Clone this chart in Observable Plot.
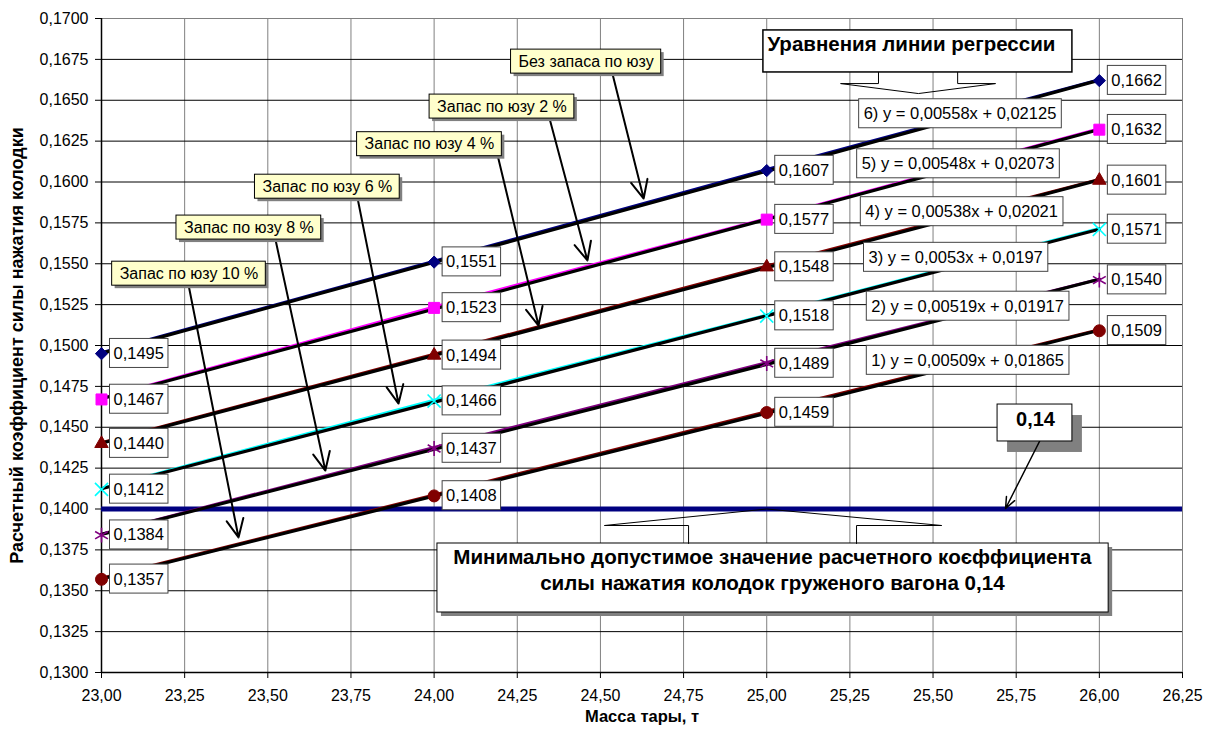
<!DOCTYPE html>
<html><head><meta charset="utf-8">
<script src="https://cdn.jsdelivr.net/npm/d3@7"></script>
<script src="https://cdn.jsdelivr.net/npm/@observablehq/plot@0.6"></script>
<style>
body{margin:0;background:#fff;}
#chart{width:1209px;height:736px;}
</style>
</head><body><div id="chart"></div>
<script>
// ---------- data ----------
const massX = [23, 24, 25, 26];
const seriesNames = ["Без запаса по юзу", "Запас по юзу 2 %", "Запас по юзу 4 %", "Запас по юзу 6 %", "Запас по юзу 8 %", "Запас по юзу 10 %"];
const noReserve = [0.1495, 0.1551, 0.1607, 0.1662];
const reserve2  = [0.1467, 0.1523, 0.1577, 0.1632];
const reserve4  = [0.1440, 0.1494, 0.1548, 0.1601];
const reserve6  = [0.1412, 0.1466, 0.1518, 0.1571];
const reserve8  = [0.1384, 0.1437, 0.1489, 0.1540];
const reserve10 = [0.1357, 0.1408, 0.1459, 0.1509];
const minValue = 0.14;
const equations = ["6) y = 0,00558x + 0,02125", "5) y = 0,00548x + 0,02073", "4) y = 0,00538x + 0,02021", "3) y = 0,0053x + 0,0197", "2) y = 0,00519x + 0,01917", "1) y = 0,00509x + 0,01865"];
const xTicks = [23, 23.25, 23.5, 23.75, 24, 24.25, 24.5, 24.75, 25, 25.25, 25.5, 25.75, 26, 26.25];
const yTicks = [0.13, 0.1325, 0.135, 0.1375, 0.14, 0.1425, 0.145, 0.1475, 0.15, 0.1525, 0.155, 0.1575, 0.16, 0.1625, 0.165, 0.1675, 0.17];
const xTitle = "Масса тары, т";
const yTitle = "Расчетный коэффициент силы нажатия колодки";
const eqTitle = "Уравнения линии регрессии";
const minText1 = "Минимально допустимое значение расчетного коєффициента";
const minText2 = "силы нажатия колодок груженого вагона 0,14";
const minLabel = "0,14";

// ---------- annotation anchors (data coordinates) ----------
const calloutX = [24.457, 24.204, 23.986, 23.679, 23.443, 23.263];
const calloutY = [0.16737, 0.16462, 0.16232, 0.15972, 0.15722, 0.15440];
const arrowX1 = [24.536, 24.347, 24.191, 23.770, 23.523, 23.262];
const arrowY1 = [0.16664, 0.16388, 0.16162, 0.15899, 0.15648, 0.15367];
const arrowX2 = [24.630, 24.461, 24.314, 23.893, 23.673, 23.412];
const arrowY2 = [0.15899, 0.15520, 0.15122, 0.14645, 0.14235, 0.13826];
const eqX = [25.581, 25.575, 25.586, 25.568, 25.604, 25.604];
const eqY = [0.16416, 0.16110, 0.15817, 0.15538, 0.15239, 0.14908];

// ---------- styles ----------
const seriesValues = [noReserve, reserve2, reserve4, reserve6, reserve8, reserve10];
const colors = ["#000080", "#FF00FF", "#800000", "#00FFFF", "#800080", "#800000"];
const symbols = ["diamond2", "square", "triangle", "times", "asterisk", "circle"];
const radii = [5.5, 6.2, 5, 6, 7, 6];

const rows = [];
seriesValues.forEach((vals, i) => vals.forEach((v, j) => rows.push({s: i, name: seriesNames[i], x: massX[j], y: v})));

const ru = d3.formatLocale({decimal: ",", thousands: "\u00a0", grouping: [3], currency: ["", ""]});
const fmt4 = ru.format(".4f");
const fmt2 = ru.format(".2f");

const callouts = seriesNames.map((t, i) => ({t, x: calloutX[i], y: calloutY[i]}));
const arrows = seriesNames.map((t, i) => ({x1: arrowX1[i], y1: arrowY1[i], x2: arrowX2[i], y2: arrowY2[i]}));
const eqRows = equations.map((t, i) => ({t, x: eqX[i], y: eqY[i]}));

// callout frames (data coords)
const eqBox = {x1: 24.990, x2: 25.919, y1: 0.16670, y2: 0.16927};
const eqNotch = [[25.336,0.16670],[25.336,0.16602],[25.222,0.16602],[25.456,0.16541],[25.688,0.16602],[25.574,0.16602],[25.574,0.16670]];
const minBox = {x1: 24.010, x2: 26.028, y1: 0.13367, y2: 0.13789};
const minNotch = [[24.765,0.13789],[24.765,0.13899],[24.512,0.13899],[25.0,0.14],[25.526,0.13899],[25.270,0.13899],[25.270,0.13789]];
const valBox = {x1: 25.694, x2: 25.919, y1: 0.14413, y2: 0.14639};

const F = "Liberation Sans, Arial, Helvetica, sans-serif";

const marks = [
  Plot.ruleX(xTicks, {stroke: "#808080", strokeWidth: 1}),
  Plot.ruleY(yTicks, {stroke: "#000", strokeWidth: 1}),
  Plot.frame({stroke: "#808080"}),
  Plot.ruleX([23], {stroke: "#000", strokeWidth: 1.5}),
  Plot.ruleY([0.13], {stroke: "#000", strokeWidth: 1.5}),
  Plot.ruleY([minValue], {stroke: "#000080", strokeWidth: 5}),
  Plot.line(rows, {x: "x", y: "y", z: "s", stroke: d => colors[d.s], strokeWidth: 3, dy: -1}),
  Plot.linearRegressionY(rows, {x: "x", y: "y", z: "s", stroke: "#000", strokeWidth: 3.2, ci: 0}),
  ...seriesValues.map((_, i) => Plot.dot(rows.filter(d => d.s === i), {
    x: "x", y: "y", symbol: symbols[i], r: radii[i],
    fill: (symbols[i] === "times" || symbols[i] === "asterisk") ? "none" : colors[i],
    stroke: colors[i], strokeWidth: (symbols[i] === "times" || symbols[i] === "asterisk") ? 1.6 : 1
  })),
  // regression title callout
  Plot.rect([eqBox], {x1: "x1", x2: "x2", y1: "y1", y2: "y2", fill: "#fff", stroke: "#000", strokeWidth: 1.5}),
  Plot.line(eqNotch, {x: "0", y: "1", stroke: "#000", strokeWidth: 1}),
  // minimum value callout
  Plot.rect([minBox], {x1: "x1", x2: "x2", y1: "y1", y2: "y2", fill: "#808080", dx: 4, dy: 4}),
  Plot.rect([minBox], {x1: "x1", x2: "x2", y1: "y1", y2: "y2", fill: "#fff", stroke: "#000", strokeWidth: 1}),
  Plot.line(minNotch, {x: "0", y: "1", stroke: "#000", strokeWidth: 1}),
  // 0,14 callout
  Plot.rect([valBox], {x1: "x1", x2: "x2", y1: "y1", y2: "y2", fill: "#808080", dx: 10, dy: 11}),
  Plot.arrow([{x1: 25.820, y1: 0.14413, x2: 25.718, y2: 0.14003}], {x1: "x1", y1: "y1", x2: "x2", y2: "y2", stroke: "#000", strokeWidth: 1.5, headLength: 12, headAngle: 45}),
  Plot.rect([valBox], {x1: "x1", x2: "x2", y1: "y1", y2: "y2", fill: "#fff", stroke: "#000", strokeWidth: 1}),
  // series callout arrows
  Plot.arrow(arrows, {x1: "x1", y1: "y1", x2: "x2", y2: "y2", stroke: "#000", strokeWidth: 2, headLength: 15, headAngle: 50}),
  // data labels
  Plot.text(rows, {x: "x", y: "y", text: d => fmt4(d.y), textAnchor: "start", dx: 12, fontSize: 16.5, fill: "#000", className: "lbl-data"}),
  // equations
  Plot.text(eqRows, {x: "x", y: "y", text: "t", fontSize: 16.5, fill: "#000", className: "lbl-eq"}),
  // series callouts
  Plot.text(callouts, {x: "x", y: "y", text: "t", fontSize: 16, fill: "#000", className: "lbl-call"}),
  // big texts
  Plot.text([eqTitle], {x: 25.002, y: 0.16841, text: d => d, textAnchor: "start", fontSize: 20.5, fontWeight: "bold", fill: "#000"}),
  Plot.text([minLabel], {x: 25.808, y: 0.14547, text: d => d, fontSize: 20, fontWeight: "bold", fill: "#000"}),
  Plot.text([minText1, minText2], {x: 25.017, y: (d, i) => i === 0 ? 0.13703 : 0.13544, text: d => d, fontSize: 20.6, fontWeight: "bold", fill: "#000"}),
  // axis titles
  Plot.text([xTitle], {frameAnchor: "bottom", dy: 44, lineAnchor: "middle", textAnchor: "middle", text: d => d, fontSize: 16.5, fontWeight: "bold", fill: "#000"}),
  Plot.text([yTitle], {frameAnchor: "left", dx: -84, rotate: -90, textAnchor: "middle", lineAnchor: "middle", text: d => d, fontSize: 18, fontWeight: "bold", fill: "#000"}),
  Plot.axisX({ticks: xTicks, tickFormat: fmt2, tickSize: 6, tickPadding: 11, fontSize: 16, label: null, stroke: "#000"}),
  Plot.axisY({ticks: yTicks, tickFormat: fmt4, tickSize: 6, tickPadding: 7, fontSize: 16, label: null, stroke: "#000"})
];

const chart = Plot.plot({
  width: 1209, height: 736,
  marginLeft: 101, marginRight: 27, marginTop: 18, marginBottom: 64,
  x: {domain: [23, 26.25]},
  y: {domain: [0.13, 0.17]},
  style: {fontFamily: F, fontSize: "16px", color: "#000", background: "#fff", overflow: "visible"},
  marks
});
document.getElementById("chart").append(chart);

// ---------- boxes behind label texts ----------
const NS = "http://www.w3.org/2000/svg";
function boxify(g, o) {
  if (!g) return;
  for (const t of Array.from(g.querySelectorAll("text"))) {
    const b = t.getBBox();
    const cy = b.y + b.height / 2;
    const tr = t.getAttribute("transform");
    const make = (off, fill, stroke) => {
      const r = document.createElementNS(NS, "rect");
      if (tr) r.setAttribute("transform", tr);
      r.setAttribute("x", b.x - o.padL + off);
      r.setAttribute("y", cy - o.h / 2 + off);
      r.setAttribute("width", b.width + o.padL + o.padR);
      r.setAttribute("height", o.h);
      r.setAttribute("fill", fill);
      r.setAttribute("stroke", stroke);
      r.setAttribute("stroke-width", o.sw || 1);
      t.parentNode.insertBefore(r, t);
    };
    if (o.shadow) make(o.shadow, "#808080", "none");
    make(0, o.fill, o.stroke);
  }
}
const textGroups = Array.from(chart.querySelectorAll('g[aria-label="text"]'));
const pick = (cls, idx) => chart.querySelector("g." + cls) || textGroups[idx];
boxify(pick("lbl-data", 0), {padL: 4, padR: 4, h: 29, fill: "#fff", stroke: "#444"});
boxify(pick("lbl-eq", 1), {padL: 5, padR: 5, h: 29, fill: "#fff", stroke: "#444"});
boxify(pick("lbl-call", 2), {padL: 8, padR: 7, h: 24, fill: "#FFFFCC", stroke: "#000", shadow: 3});
</script>
</body></html>
